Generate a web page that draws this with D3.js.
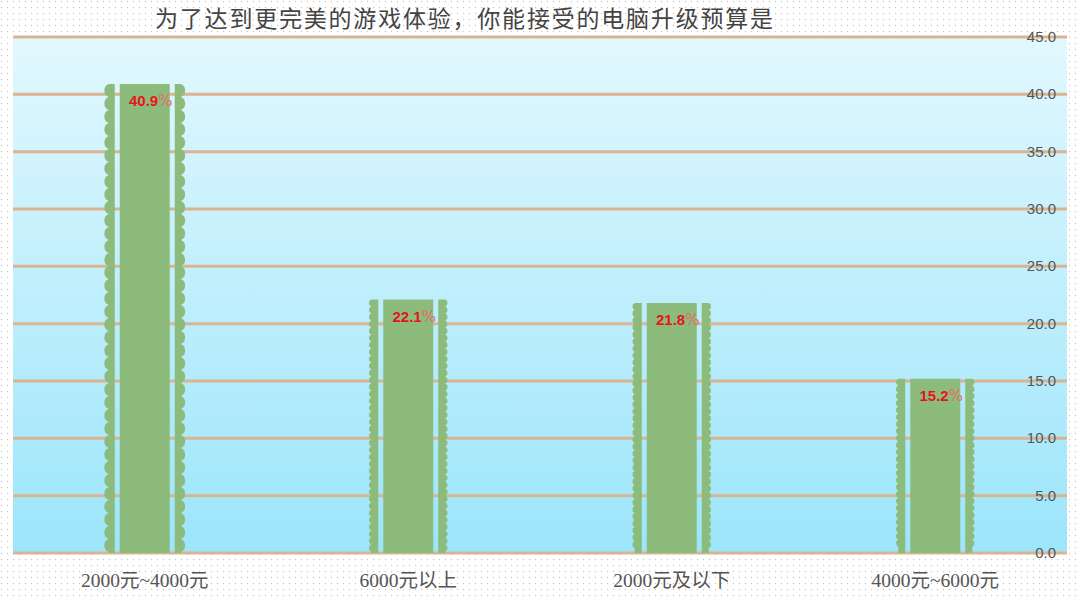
<!DOCTYPE html>
<html>
<head>
<meta charset="utf-8">
<script src="https://cdn.jsdelivr.net/npm/d3@7"></script>
<style>
  html, body { margin: 0; padding: 0; background: #fff; }
  svg { display: block; }
</style>
</head>
<body>
<div id="chart"></div>
<script>
// data
const categories = ["2000元~4000元", "6000元以上", "2000元及以下", "4000元~6000元"];
const values = [40.9, 22.1, 21.8, 15.2];
const yTicks = [0, 5, 10, 15, 20, 25, 30, 35, 40, 45];
const title = "为了达到更完美的游戏体验，你能接受的电脑升级预算是";

const width = 1080, height = 600;
const plot = { left: 13, right: 1067, top: 37, bottom: 553 };

const svg = d3.select("#chart").append("svg")
    .attr("width", width)
    .attr("height", height);

const defs = svg.append("defs");

// dotted paper behind everything
const dots = defs.append("pattern")
    .attr("id", "dots")
    .attr("width", 6).attr("height", 6)
    .attr("patternUnits", "userSpaceOnUse");
dots.append("rect").attr("width", 6).attr("height", 6).attr("fill", "#fff");
dots.append("circle").attr("cx", 1.5).attr("cy", 1.5).attr("r", 0.7).attr("fill", "#c8c8c8");

const grad = defs.append("linearGradient")
    .attr("id", "bg")
    .attr("x1", 0).attr("y1", 0).attr("x2", 0).attr("y2", 1);
grad.append("stop").attr("offset", "0%").attr("stop-color", "#e2f8fe");
grad.append("stop").attr("offset", "100%").attr("stop-color", "#9ce5fb");

svg.append("rect")
    .attr("width", width).attr("height", height)
    .attr("fill", "url(#dots)");

svg.append("rect")
    .attr("x", plot.left).attr("y", plot.top)
    .attr("width", plot.right - plot.left)
    .attr("height", plot.bottom - plot.top)
    .attr("fill", "url(#bg)");

const x = d3.scaleBand()
    .domain(categories)
    .range([plot.left, plot.right]);

const y = d3.scaleLinear()
    .domain([0, 45])
    .range([plot.bottom, plot.top]);

// gridlines
svg.append("g")
    .selectAll("line")
    .data(yTicks)
    .enter()
    .append("line")
    .attr("x1", plot.left)
    .attr("x2", plot.right)
    .attr("y1", d => y(d))
    .attr("y2", d => y(d))
    .attr("stroke", "#d9b592")
    .attr("stroke-width", 3);

// y labels on the right, sitting on the lines
svg.append("g")
    .selectAll("text")
    .data(yTicks)
    .enter()
    .append("text")
    .attr("x", 1056)
    .attr("y", d => y(d) + 5)
    .attr("text-anchor", "end")
    .attr("fill", "#555")
    .style("font-family", "Arial, 'Liberation Sans', sans-serif")
    .style("font-size", "15px")
    .text(d => d.toFixed(1));

// scalloped side strip; side -1 = left, +1 = right
function stripPath(xInner, xBase, yTop, yBot, period, r, side) {
    let p = `M${xInner},${yTop} L${xBase},${yTop}`;
    let yy = yTop;
    while (yy + period <= yBot) {
        p += ` A${r},${r} 0 0 ${side > 0 ? 1 : 0} ${xBase},${yy + period}`;
        yy += period;
    }
    p += ` L${xBase},${yBot} L${xInner},${yBot} Z`;
    return p;
}

const barColor = "#8dbb7b";
const bars = svg.append("g");

values.forEach((v, i) => {
    const cx = x(categories[i]) + x.bandwidth() / 2;
    const top = y(v);
    const bottom = y(0);
    const big = i === 0;
    const period = big ? 13 : 7;
    const r = big ? 7 : 3.8;

    bars.append("rect")
        .attr("x", cx - 25)
        .attr("y", top)
        .attr("width", 50)
        .attr("height", bottom - top)
        .attr("fill", barColor);

    bars.append("path")
        .attr("d", stripPath(cx - 30, big ? cx - 36 : cx - 37, top, bottom, period, r, -1))
        .attr("fill", barColor);

    bars.append("path")
        .attr("d", stripPath(cx + 30, big ? cx + 36 : cx + 37, top, bottom, period, r, 1))
        .attr("fill", barColor);

    const label = bars.append("text")
        .attr("x", cx + 6)
        .attr("y", top + 22)
        .attr("text-anchor", "middle");
    label.append("tspan")
        .attr("fill", "#e8141c")
        .style("font-family", "Arial, 'Liberation Sans', sans-serif")
        .style("font-weight", "bold")
        .style("font-size", "15px")
        .text(v.toFixed(1));
    label.append("tspan")
        .attr("fill", "#e46a6a")
        .style("font-family", "'DejaVu Sans', sans-serif")
        .style("font-size", "15px")
        .text("%");
});

// category labels
svg.append("g")
    .selectAll("text")
    .data(categories)
    .enter()
    .append("text")
    .attr("x", d => x(d) + x.bandwidth() / 2)
    .attr("y", 587)
    .attr("text-anchor", "middle")
    .attr("fill", "#555")
    .style("font-family", "'Liberation Serif', 'Noto Sans CJK SC', serif")
    .style("font-size", "19.5px")
    .text(d => d);

svg.append("text")
    .attr("x", 155)
    .attr("y", 27)
    .attr("fill", "#444")
    .style("font-family", "'Noto Sans CJK SC', sans-serif")
    .style("font-size", "23px")
    .attr("textLength", 618)
    .text(title);
</script>
</body>
</html>
